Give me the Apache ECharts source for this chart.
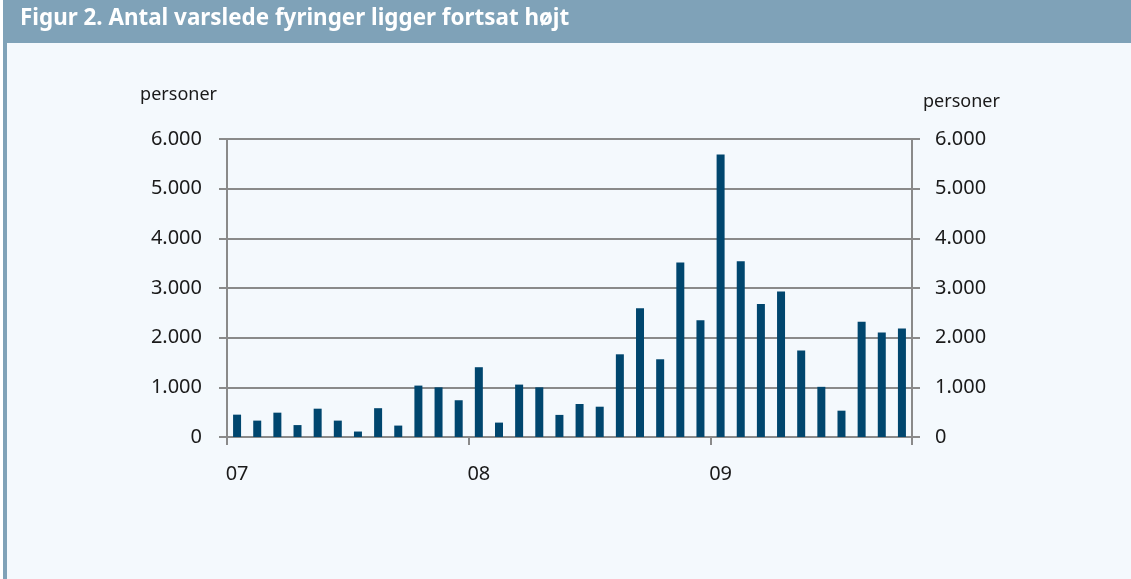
<!DOCTYPE html>
<html>
<head>
<meta charset="utf-8">
<script src="https://cdn.jsdelivr.net/npm/echarts@6/dist/echarts.min.js"></script>
<style>
    html, body { margin: 0; padding: 0; background: #ffffff; }
    #chart { width: 1131px; height: 579px; }
</style>
</head>
<body>
<div id="chart"></div>
<script>
// måneder jan 07 - okt 09
const months = [
    '07-01', '07-02', '07-03', '07-04', '07-05', '07-06', '07-07', '07-08', '07-09', '07-10', '07-11', '07-12',
    '08-01', '08-02', '08-03', '08-04', '08-05', '08-06', '08-07', '08-08', '08-09', '08-10', '08-11', '08-12',
    '09-01', '09-02', '09-03', '09-04', '09-05', '09-06', '09-07', '09-08', '09-09', '09-10'
];
// varslede fyringer, personer
const varslede = [
    450, 330, 490, 240, 570, 330, 110, 580, 230, 1035, 1000, 740,
    1405, 290, 1055, 1000, 445, 665, 610, 1665, 2590, 1565, 3515, 2350,
    5690, 3540, 2680, 2930, 1740, 1010, 530, 2320, 2105, 2185
];
const yTicks = [0, 1000, 2000, 3000, 4000, 5000, 6000];

const title = 'Figur 2. Antal varslede fyringer ligger fortsat højt';
const unit = 'personer';

const chart = echarts.init(document.getElementById('chart'));

const fmt = v => v === 0 ? '0' : String(v).replace(/\B(?=(\d{3})+(?!\d))/g, '.');
const yearStart = i => months[i].slice(3) === '01';

const axisGrey = '#8a8a8a';
const labelStyle = {color: '#1a1a1a', fontFamily: 'Noto Sans', fontSize: 20};

function yAxis(pos) {
    return {
        type: 'value',
        position: pos,
        min: yTicks[0],
        max: yTicks[yTicks.length - 1],
        interval: 1000,
        name: unit,
        nameLocation: 'end',
        nameGap: pos === 'left' ? 35 : 28,
        nameTextStyle: {
            color: '#1a1a1a', fontFamily: 'Noto Sans', fontSize: 18,
            align: pos === 'left' ? 'right' : 'left',
            padding: pos === 'left' ? [0, 10, 0, 0] : [0, 0, 0, 11]
        },
        axisLine: {show: true, lineStyle: {color: axisGrey, width: 2}},
        axisTick: {show: true, length: 8, lineStyle: {color: axisGrey, width: 2}},
        axisLabel: Object.assign({margin: pos === 'left' ? 25 : 23, formatter: fmt}, labelStyle),
        splitLine: {show: pos === 'left', lineStyle: {color: axisGrey, width: 2}}
    };
}

chart.setOption({
    backgroundColor: '#f4f9fd',
    animation: false,
    graphic: [
        {type: 'rect', shape: {x: 0, y: 0, width: 3, height: 579}, style: {fill: '#ffffff'}, silent: true},
        {type: 'rect', shape: {x: 3, y: 0, width: 1128, height: 43}, style: {fill: '#7fa2b8'}, silent: true},
        {type: 'rect', shape: {x: 3, y: 43, width: 4, height: 536}, style: {fill: '#7fa2b8'}, silent: true},
        {
            type: 'text', left: 20, top: 8,
            style: {text: title, fill: '#ffffff', font: 'bold 22.4px "Noto Sans"'}
        }
    ],
    grid: {left: 227, right: 219, top: 139, bottom: 142, containLabel: false},
    xAxis: {
        type: 'category',
        data: months,
        boundaryGap: true,
        axisLine: {show: true, lineStyle: {color: axisGrey, width: 2}},
        axisTick: {show: true, length: 8, interval: yearStart, alignWithLabel: false, lineStyle: {color: axisGrey, width: 2}},
        axisLabel: Object.assign({interval: yearStart, margin: 27, formatter: v => v.slice(0, 2)}, labelStyle),
        splitLine: {show: false}
    },
    yAxis: [yAxis('left'), yAxis('right')],
    series: [{
        type: 'bar',
        data: varslede,
        barWidth: 8,
        itemStyle: {color: '#00466e'}
    }]
});
</script>
</body>
</html>
